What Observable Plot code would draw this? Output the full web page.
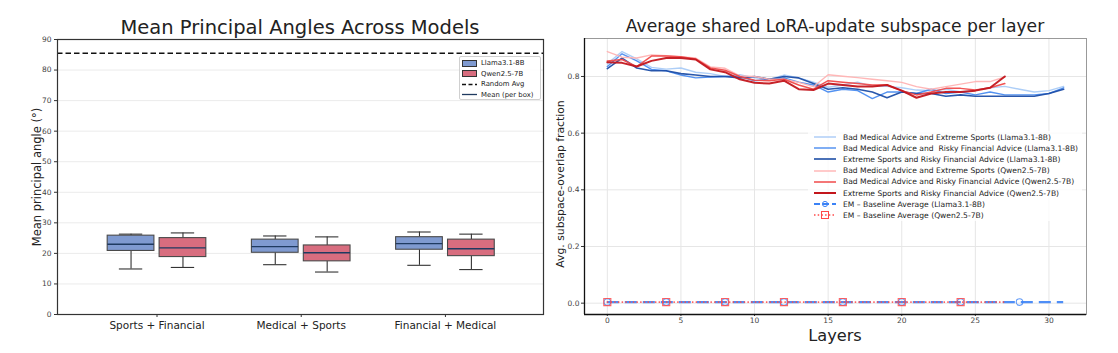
<!DOCTYPE html>
<html>
<head>
<meta charset="utf-8">
<script src="https://cdn.jsdelivr.net/npm/d3@7"></script>
<script src="https://cdn.jsdelivr.net/npm/@observablehq/plot@0.6"></script>
<style>
  body { margin: 0; background: #fff; font-family: "DejaVu Sans", sans-serif; }
  #wrap { position: relative; width: 1118px; height: 353px; overflow: hidden; background: #fff; }
  .abs { position: absolute; }
  .title { white-space: nowrap; color: #222; line-height: 1; transform: translateX(-50%); }
  .ylab { white-space: nowrap; color: #222; line-height: 1; transform: translate(-50%, -50%) rotate(-90deg); }
  .leg { font-size: 7.6px; color: #222; white-space: pre; }
  .row { position: absolute; display: flex; align-items: center; height: 10px; }
  svg { overflow: visible; }
</style>
</head>
<body>
<div id="wrap"></div>
<script>
// ---------- Left panel data ----------
const groups = ["Sports + Financial", "Medical + Sports", "Financial + Medical"];
const models = ["Llama3.1-8B", "Qwen2.5-7B"];
const llamaQ1 = [20.8, 20.2, 21.2];
const llamaQ3 = [25.8, 24.5, 25.3];
const llamaMean = [23.0, 22.2, 23.2];
const llamaLo = [14.9, 16.3, 16.1];
const llamaHi = [26.3, 25.7, 27.0];
const qwenQ1 = [18.8, 17.4, 19.1];
const qwenQ3 = [25.0, 22.6, 24.5];
const qwenMean = [21.8, 20.2, 21.5];
const qwenLo = [15.4, 13.9, 14.7];
const qwenHi = [26.7, 25.4, 26.3];
const randomAvg = 85.5;
const angleTicks = [0, 10, 20, 30, 40, 50, 60, 70, 80, 90];

// ---------- Right panel data ----------
const llamaLayers = d3.range(0, 32);
const qwenLayers = d3.range(0, 28);
const llamaMedSports = [0.845,0.888,0.862,0.832,0.826,0.830,0.815,0.810,0.800,0.806,0.795,0.790,0.805,0.795,0.780,0.762,0.770,0.780,0.765,0.765,0.760,0.752,0.750,0.755,0.745,0.752,0.760,0.765,0.755,0.745,0.750,0.765];
const llamaMedFin = [0.835,0.880,0.855,0.825,0.820,0.805,0.795,0.798,0.800,0.800,0.785,0.790,0.795,0.780,0.770,0.745,0.755,0.750,0.722,0.745,0.745,0.740,0.755,0.740,0.745,0.735,0.745,0.735,0.735,0.735,0.740,0.760];
const llamaSportsFin = [0.828,0.865,0.830,0.820,0.820,0.810,0.805,0.800,0.800,0.795,0.800,0.790,0.800,0.795,0.775,0.755,0.760,0.755,0.745,0.725,0.745,0.740,0.740,0.730,0.735,0.730,0.730,0.730,0.730,0.730,0.740,0.755];
const qwenMedSports = [0.888,0.868,0.865,0.876,0.873,0.869,0.865,0.834,0.829,0.802,0.800,0.790,0.790,0.779,0.764,0.806,0.801,0.796,0.790,0.785,0.779,0.764,0.755,0.764,0.773,0.782,0.782,0.798];
const qwenMedFin = [0.855,0.860,0.835,0.872,0.872,0.870,0.862,0.830,0.822,0.800,0.787,0.785,0.790,0.770,0.755,0.785,0.780,0.775,0.770,0.770,0.750,0.735,0.745,0.758,0.758,0.752,0.760,0.775];
const qwenSportsFin = [0.850,0.848,0.835,0.855,0.865,0.865,0.860,0.825,0.815,0.790,0.778,0.775,0.785,0.755,0.752,0.775,0.770,0.765,0.765,0.770,0.750,0.725,0.740,0.745,0.745,0.750,0.760,0.800];
const llamaBaseline = 0.004;
const qwenBaseline = 0.004;
const layerTicks = [0, 5, 10, 15, 20, 25, 30];
const overlapTicks = [0, 0.2, 0.4, 0.6, 0.8];
const seriesNames = [
  "Bad Medical Advice and Extreme Sports (Llama3.1-8B)",
  "Bad Medical Advice and  Risky Financial Advice (Llama3.1-8B)",
  "Extreme Sports and Risky Financial Advice (Llama3.1-8B)",
  "Bad Medical Advice and Extreme Sports (Qwen2.5-7B)",
  "Bad Medical Advice and Risky Financial Advice (Qwen2.5-7B)",
  "Extreme Sports and Risky Financial Advice (Qwen2.5-7B)",
  "EM \u2013 Baseline Average (Llama3.1-8B)",
  "EM \u2013 Baseline Average (Qwen2.5-7B)"
];

// ---------- styles ----------
const boxColors = {"Llama3.1-8B": "#7f9ad0", "Qwen2.5-7B": "#d86d7f"};
const meanColor = "#1f3a60";
const lineColors = ["#a9cbf7", "#4a8cf0", "#1d4ea6", "#ffb3b3", "#f04a4a", "#c3161c"];
const lineWidths = [1.4, 1.4, 1.6, 1.4, 1.5, 2.0];
const font = "DejaVu Sans";

const wrap = document.getElementById("wrap");

// ---------- Left panel ----------
const boxRows = [];
groups.forEach((g, i) => {
  boxRows.push({g: i, model: models[0], off: -0.18, q1: llamaQ1[i], q3: llamaQ3[i], mean: llamaMean[i], lo: llamaLo[i], hi: llamaHi[i]});
  boxRows.push({g: i, model: models[1], off: 0.18, q1: qwenQ1[i], q3: qwenQ3[i], mean: qwenMean[i], lo: qwenLo[i], hi: qwenHi[i]});
});
const hw = 0.162, cw = 0.081;

const left = Plot.plot({
  width: 556, height: 353,
  marginLeft: 57, marginRight: 13, marginTop: 39, marginBottom: 39,
  style: {fontFamily: font, background: "transparent", color: "#333"},
  x: {domain: [-0.69, 2.68]},
  y: {domain: [0, 90]},
  marks: [
    Plot.ruleY(angleTicks.slice(1), {stroke: "#ebebeb", strokeWidth: 1}),
    Plot.ruleY([randomAvg], {stroke: "#111", strokeWidth: 1.4, strokeDasharray: "5.5,3"}),
    Plot.ruleX(boxRows, {x: d => d.g + d.off, y1: "lo", y2: "q1", stroke: "#333", strokeWidth: 1.1}),
    Plot.ruleX(boxRows, {x: d => d.g + d.off, y1: "q3", y2: "hi", stroke: "#333", strokeWidth: 1.1}),
    Plot.ruleY(boxRows, {y: "lo", x1: d => d.g + d.off - cw, x2: d => d.g + d.off + cw, stroke: "#333", strokeWidth: 1.1}),
    Plot.ruleY(boxRows, {y: "hi", x1: d => d.g + d.off - cw, x2: d => d.g + d.off + cw, stroke: "#333", strokeWidth: 1.1}),
    Plot.rect(boxRows, {x1: d => d.g + d.off - hw, x2: d => d.g + d.off + hw, y1: "q1", y2: "q3", fill: d => boxColors[d.model], stroke: "#4a4a4a", strokeWidth: 1.1}),
    Plot.ruleY(boxRows, {y: "mean", x1: d => d.g + d.off - hw, x2: d => d.g + d.off + hw, stroke: meanColor, strokeWidth: 1.4}),
    Plot.axisY({ticks: angleTicks, tickSize: 3, tickPadding: 3, fontSize: 7.5, label: null, stroke: "#333", fill: "#444"}),
    Plot.axisX({ticks: [0, 1, 2], tickFormat: i => groups[i], tickSize: 3, tickPadding: 4, fontSize: 10.5, label: null, fill: "#222"}),
    Plot.frame({stroke: "#333", strokeWidth: 1.2})
  ]
});
left.classList.add("abs");
left.style.left = "0px"; left.style.top = "0px";
wrap.appendChild(left);

// ---------- Right panel ----------
const llamaSeries = [llamaMedSports, llamaMedFin, llamaSportsFin];
const qwenSeries = [qwenMedSports, qwenMedFin, qwenSportsFin];
const lineRows = [];
llamaSeries.forEach((s, k) => s.forEach((v, j) => lineRows.push({layer: llamaLayers[j], v, k})));
qwenSeries.forEach((s, k) => s.forEach((v, j) => lineRows.push({layer: qwenLayers[j], v, k: k + 3})));
const llamaMarks = llamaLayers.filter(l => l % 4 === 0);
const qwenMarks = qwenLayers.filter(l => l % 4 === 0);

const right = Plot.plot({
  width: 578, height: 353,
  marginLeft: 44, marginRight: 32, marginTop: 38, marginBottom: 39,
  style: {fontFamily: font, background: "transparent", color: "#333"},
  x: {domain: [-1.55, 32.55]},
  y: {domain: [-0.04, 0.934]},
  marks: [
    Plot.ruleX(layerTicks, {stroke: "#e6e6e6", strokeWidth: 1}),
    Plot.ruleY(overlapTicks, {stroke: "#e6e6e6", strokeWidth: 1}),
    ...[0, 1, 2, 3, 4, 5].map(k => Plot.line(lineRows.filter(d => d.k === k), {x: "layer", y: "v", stroke: lineColors[k], strokeWidth: lineWidths[k], strokeOpacity: 0.95})),
    Plot.ruleY([llamaBaseline], {x1: llamaLayers[0], x2: llamaLayers[llamaLayers.length - 1], stroke: "#3b82f6", strokeWidth: 2.2, strokeDasharray: "12,6", strokeOpacity: 0.9}),
    Plot.dot(llamaMarks, {x: d => d, y: () => llamaBaseline, r: 3.3, stroke: "#3b82f6", strokeWidth: 1.1, fill: "none", strokeOpacity: 0.8}),
    Plot.ruleY([qwenBaseline], {x1: qwenLayers[0], x2: qwenLayers[qwenLayers.length - 1], stroke: "#ff4a4a", strokeWidth: 1.8, strokeDasharray: "1.5,2.2", strokeOpacity: 0.85}),
    Plot.dot(qwenMarks, {x: d => d, y: () => qwenBaseline, r: 4, symbol: "square", stroke: "#ff4a4a", strokeWidth: 1.1, fill: "none", strokeOpacity: 0.85}),
    Plot.axisY({ticks: overlapTicks, tickFormat: d3.format(".1f"), tickSize: 3, tickPadding: 2, fontSize: 7.5, label: null, stroke: "#333", fill: "#444"}),
    Plot.axisX({ticks: layerTicks, tickSize: 2, tickPadding: 1.5, fontSize: 7.5, label: null, stroke: "#333", fill: "#444"}),
    Plot.frame({stroke: "#999", strokeWidth: 1}),
    Plot.ruleY([-0.04], {stroke: "#111", strokeWidth: 1.3}),
    Plot.ruleX([-1.55], {stroke: "#111", strokeWidth: 1.3})
  ]
});
right.classList.add("abs");
right.style.left = "540px"; right.style.top = "0px";
wrap.appendChild(right);

// ---------- Titles & labels ----------
function addDiv(cls, text, css) {
  const d = document.createElement("div");
  d.className = "abs " + cls;
  d.textContent = text;
  Object.assign(d.style, css);
  wrap.appendChild(d);
  return d;
}
addDiv("title", "Mean Principal Angles Across Models", {left: "300px", top: "18px", fontSize: "19.5px"});
addDiv("title", "Average shared LoRA-update subspace per layer", {left: "835px", top: "18px", fontSize: "17.2px"});
addDiv("ylab", "Mean principal angle (\u00b0)", {left: "38px", top: "177px", fontSize: "11.5px"});
addDiv("ylab", "Avg. subspace-overlap fraction", {left: "561px", top: "184px", fontSize: "10.8px"});
addDiv("title", "Layers", {left: "835px", top: "329px", fontSize: "16.2px", lineHeight: "0.9"});

// ---------- Left legend ----------
const lleg = document.createElement("div");
lleg.className = "abs";
Object.assign(lleg.style, {left: "459px", top: "56px", width: "82px", height: "44px", border: "1px solid #d0d0d0", borderRadius: "2px", background: "rgba(255,255,255,0.85)", boxSizing: "border-box"});
wrap.appendChild(lleg);
const lItems = [
  {label: models[0], kind: "patch", color: boxColors[models[0]]},
  {label: models[1], kind: "patch", color: boxColors[models[1]]},
  {label: "Random Avg", kind: "dash", color: "#111"},
  {label: "Mean (per box)", kind: "line", color: meanColor}
];
lItems.forEach((it, i) => {
  const r = document.createElement("div");
  r.className = "row leg";
  Object.assign(r.style, {left: "2px", top: (1 + i * 10.6) + "px", fontSize: "6.9px", color: "#222"});
  let sample;
  if (it.kind === "patch") sample = `<svg width="15" height="7"><rect x="0.5" y="0.5" width="14" height="6" fill="${it.color}" stroke="#333" stroke-width="1"/></svg>`;
  else if (it.kind === "dash") sample = `<svg width="15" height="7"><line x1="0" x2="15" y1="3.5" y2="3.5" stroke="${it.color}" stroke-width="1.3" stroke-dasharray="4,2.5"/></svg>`;
  else sample = `<svg width="15" height="7"><line x1="0" x2="15" y1="3.5" y2="3.5" stroke="${it.color}" stroke-width="1.3"/></svg>`;
  r.innerHTML = sample + `<span style="margin-left:4px">${it.label}</span>`;
  lleg.appendChild(r);
});

// ---------- Right legend ----------
const rleg = document.createElement("div");
rleg.className = "abs";
Object.assign(rleg.style, {left: "808px", top: "131px", width: "274px", height: "90px", background: "rgba(255,255,255,0.8)"});
wrap.appendChild(rleg);
seriesNames.forEach((name, i) => {
  const r = document.createElement("div");
  r.className = "row leg";
  Object.assign(r.style, {left: "6px", top: (1 + i * 11.2) + "px"});
  let sample;
  if (i < 6) sample = `<svg width="22" height="8"><line x1="0" x2="22" y1="4" y2="4" stroke="${lineColors[i]}" stroke-width="${lineWidths[i]}"/></svg>`;
  else if (i === 6) sample = `<svg width="22" height="8"><line x1="0" x2="22" y1="4" y2="4" stroke="#3b82f6" stroke-width="2" stroke-dasharray="6,3"/><circle cx="11" cy="4" r="2.6" fill="none" stroke="#3b82f6" stroke-width="1"/></svg>`;
  else sample = `<svg width="22" height="8"><line x1="0" x2="22" y1="4" y2="4" stroke="#ff4a4a" stroke-width="1.6" stroke-dasharray="1.5,2.2"/><rect x="7.5" y="0.5" width="7" height="7" fill="none" stroke="#ff4a4a" stroke-width="1"/></svg>`;
  r.innerHTML = sample + `<span style="margin-left:7px">${name}</span>`;
  rleg.appendChild(r);
});
</script>
</body>
</html>
